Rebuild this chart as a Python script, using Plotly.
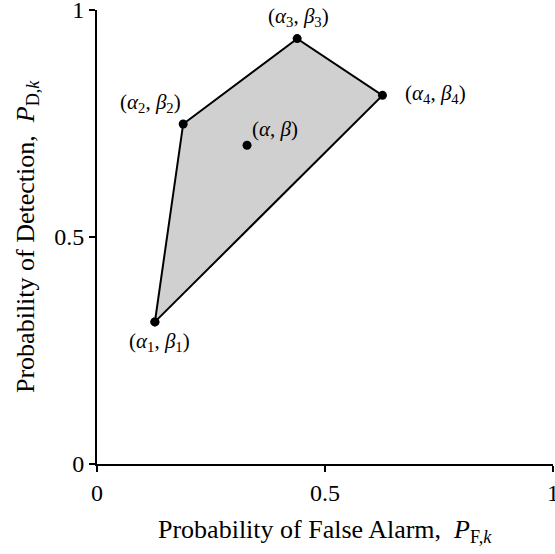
import plotly.graph_objects as go

# Operating points of the individual detectors (P_F, P_D)
alpha = [0.127, 0.189, 0.439, 0.626]
beta = [0.313, 0.749, 0.937, 0.812]
point_labels = ["(<i>α</i><sub>1</sub>, <i>β</i><sub>1</sub>)",
                "(<i>α</i><sub>2</sub>, <i>β</i><sub>2</sub>)",
                "(<i>α</i><sub>3</sub>, <i>β</i><sub>3</sub>)",
                "(<i>α</i><sub>4</sub>, <i>β</i><sub>4</sub>)"]
# Combined operating point inside the hull
alpha_c = [0.329]
beta_c = [0.702]
center_label = "(<i>α</i>, <i>β</i>)"

tick_vals = [0, 0.5, 1]
tick_text = ["0", "0.5", "1"]

x_title = "Probability of False Alarm,  <i>P</i><sub>F,<i>k</i></sub>"
y_title = "Probability of Detection,  <i>P</i><sub>D,<i>k</i></sub>"

serif = "Liberation Serif"
label_font = dict(family=serif, size=21, color="black")
title_font = dict(family=serif, size=26, color="black")

fig = go.Figure()

# Convex hull of the operating points
fig.add_trace(go.Scatter(
    x=alpha + [alpha[0]], y=beta + [beta[0]],
    mode="lines+markers", fill="toself", fillcolor="#d0d0d0",
    line=dict(color="black", width=2),
    marker=dict(color="black", size=9),
    showlegend=False, hoverinfo="skip"))

fig.add_trace(go.Scatter(
    x=alpha_c, y=beta_c, mode="markers",
    marker=dict(color="black", size=9), showlegend=False))

# Label offsets (pixels) around each vertex
offsets = [(5, -20), (-33, 21), (1, 22), (53, 1)]
for xa, yb, txt, (dx, dy) in zip(alpha, beta, point_labels, offsets):
    fig.add_annotation(x=xa, y=yb, text=txt, showarrow=False,
                       xshift=dx, yshift=dy, font=label_font)
fig.add_annotation(x=alpha_c[0], y=beta_c[0], text=center_label,
                   showarrow=False, xshift=28, yshift=16, font=label_font)

axis_common = dict(range=[0, 1], tickvals=tick_vals, ticktext=tick_text,
                   showline=True, linecolor="black", linewidth=2,
                   ticks="outside", ticklen=6, tickwidth=2, tickcolor="black",
                   showgrid=False, zeroline=False, ticklabeloverflow="allow",
                   automargin=False,
                   tickfont=dict(family=serif, size=24, color="black"))

fig.update_xaxes(**axis_common)
fig.update_yaxes(**axis_common)

# Axis titles
fig.add_annotation(xref="paper", yref="paper", x=0.5, y=0, yshift=-67,
                   yanchor="middle", text=x_title, showarrow=False,
                   font=title_font)
fig.add_annotation(xref="paper", yref="paper", x=0, y=0.5, xshift=-70,
                   xanchor="center", yanchor="middle", textangle=-90,
                   text=y_title, showarrow=False, font=title_font)

fig.update_layout(width=555, height=554,
                  margin=dict(l=97, r=2, t=10, b=90),
                  plot_bgcolor="white", paper_bgcolor="white")

fig.write_html("out.html")
